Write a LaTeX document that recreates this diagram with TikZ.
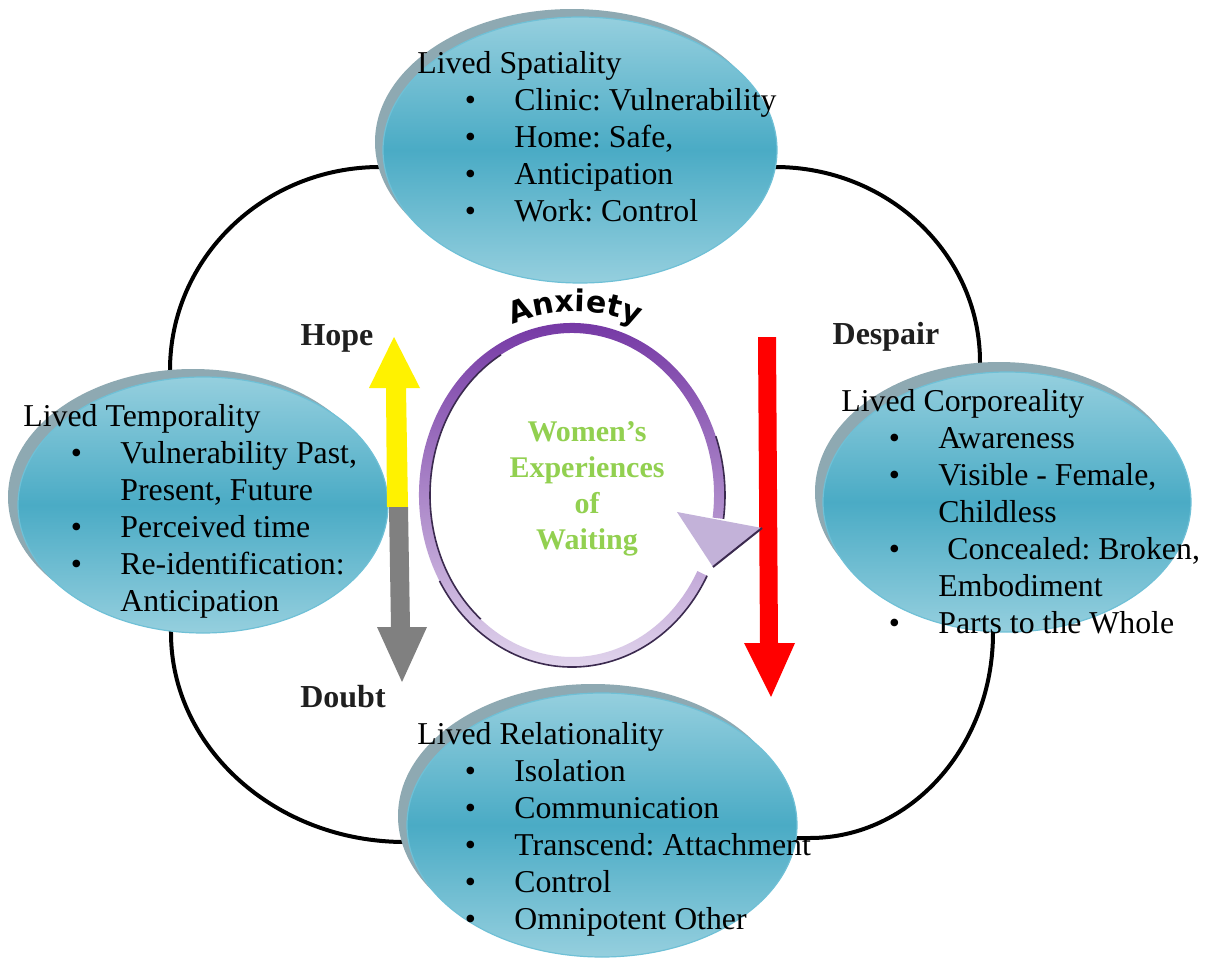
\documentclass[tikz,border=0pt]{standalone}
\usepackage{fontspec}
\setmainfont{Liberation Serif}
\newfontfamily\anxfont{DejaVu Sans}
\usetikzlibrary{shapes.geometric,decorations.text,calc}
\frenchspacing
\definecolor{ellLight}{HTML}{95CFDE}
\definecolor{ellDark}{HTML}{4AABC5}
\definecolor{ellShadow}{HTML}{8EA9B2}
\definecolor{ellEdge}{HTML}{6FC0D6}
\definecolor{ringTop}{HTML}{6E2EA0}
\definecolor{ringBot}{HTML}{E8DFF1}
\definecolor{ringEdge}{HTML}{3B2A4F}
\definecolor{headFill}{HTML}{C3B2D9}
\definecolor{waitGreen}{HTML}{92D050}
\newcommand\bitem[1]{\makebox[48.5pt][l]{\hspace*{23.7pt}\textbullet}#1}
\newcommand\contline[1]{\hspace*{48.5pt}#1}
\begin{document}
\begin{tikzpicture}[x=0.5pt,y=-0.5pt,
  ellshadow/.style={ellipse, fill=ellShadow, inner sep=0pt, outer sep=0pt},
  ellmain/.style={ellipse, top color=ellLight, bottom color=ellLight, middle color=ellDark, draw=ellEdge, line width=0.6pt, inner sep=0pt, outer sep=0pt},
  blocktext/.style={anchor=north west, align=left, inner sep=0pt, font=\fontsize{15.9}{18.5}\selectfont},
  lbl/.style={inner sep=0pt, text=black!88, font=\bfseries\fontsize{16}{19}\selectfont},
  ringline/.style={line width=2pt, black},
  edgeline/.style={ringEdge, line width=0.8pt}]
\useasboundingbox (0,0) rectangle (1212,958);
\fill[white] (0,0) rectangle (1212,958);

% outer ring connecting the four ellipses
\coordinate (r1) at (380,167);
\coordinate (r2) at (170,370);
\coordinate (r3) at (171,633);
\coordinate (r4) at (405,842);
\coordinate (r5) at (810,838);
\coordinate (r6) at (993,633);
\coordinate (r7) at (980,362);
\coordinate (r8) at (775,167);
\draw[ringline] (r1) .. controls (264,167) and (170,258) .. (r2) -- (r3)
  .. controls (171,748) and (276,842) .. (r4) -- (r5)
  .. controls (911,838) and (993,746) .. (r6) -- (r7)
  .. controls (980,254) and (888,167) .. (r8) -- cycle;

% ellipses
\node[ellshadow, minimum width=197pt, minimum height=133pt] (topS) at (572,142) {};
\node[ellmain, minimum width=197pt, minimum height=133pt] (top) at (580,150) {};
\node[ellshadow, minimum width=185pt, minimum height=128pt] (leftS) at (193,497) {};
\node[ellmain, minimum width=185pt, minimum height=128pt] (left) at (203,505) {};
\node[ellshadow, minimum width=184pt, minimum height=130pt] (rightS) at (999,492) {};
\node[ellmain, minimum width=184pt, minimum height=130pt] (right) at (1007,502) {};
\node[ellshadow, minimum width=195pt, minimum height=132pt] (botS) at (593,816) {};
\node[ellmain, minimum width=195pt, minimum height=132pt] (bot) at (602,825) {};

% hope / doubt arrow
\fill[yellow] (387,507) -- (386,388) -- (369,388) -- (394,337) -- (420,388) -- (406,388) -- (408,507) -- cycle;
\fill[black!50] (389,507) -- (408,507) -- (410,627) -- (427,627) -- (402,682) -- (377,627) -- (391,627) -- cycle;
% despair arrow
\fill[red] (758,337) -- (776,337) -- (778,643) -- (795,643) -- (771,697) -- (744,643) -- (760,643) -- cycle;

% central circular arrow
\coordinate (C) at (572,495);
\shade[top color=ringTop, bottom color=ringBot]
  ($(C)+(28:153 and 172)$) arc[start angle=28, end angle=368, x radius=153, y radius=172]
  -- ($(C)+(368:142 and 162)$) arc[start angle=368, end angle=28, x radius=142, y radius=162] -- cycle;
\draw[edgeline] ($(C)+(28:153 and 172)$) arc[start angle=28, end angle=150, x radius=153, y radius=172];
\draw[edgeline] ($(C)+(130:142 and 162)$) arc[start angle=130, end angle=240, x radius=142, y radius=162];
\draw[edgeline] ($(C)+(340:153 and 172)$) arc[start angle=340, end angle=368, x radius=153, y radius=172];
\fill[headFill] (677,512) -- (762,528) -- (713,567) -- cycle;
\draw[ringEdge, line width=1pt] (762,528) -- (713,567);

\path[decorate, decoration={text along path, text align=center,
   text={|\anxfont\bfseries\fontsize{15}{18}\selectfont|Anxiety}}]
  ($(575,468)+(225:156)$) arc[start angle=225, end angle=315, radius=156];

\node[align=center, text=waitGreen, inner sep=0pt, font=\bfseries\fontsize{15}{18}\selectfont] (wait) at (587,489) {Women’s\\Experiences\\of\\Waiting};

% labels
\node[lbl] (hope) at (337,338) {Hope};
\node[lbl] (despair) at (886,337) {Despair};
\node[lbl] (doubt) at (343,697) {Doubt};

% texts
\node[blocktext] (topT) at (417,51) {Lived Spatiality\\
  \bitem{Clinic: Vulnerability}\\
  \bitem{Home: Safe,}\\
  \bitem{Anticipation}\\
  \bitem{Work: Control}};
\node[blocktext] (leftT) at (23,404) {Lived Temporality\\
  \bitem{Vulnerability Past,}\\
  \contline{Present, Future}\\
  \bitem{Perceived time}\\
  \bitem{Re-identification:}\\
  \contline{Anticipation}};
\node[blocktext] (rightT) at (841,389) {Lived Corporeality\\
  \bitem{Awareness}\\
  \bitem{Visible - Female,}\\
  \contline{Childless}\\
  \bitem{\hspace*{4.5pt}Concealed: Broken,}\\
  \contline{Embodiment}\\
  \bitem{Parts to the Whole}};
\node[blocktext] (botT) at (417,722) {Lived Relationality\\
  \bitem{Isolation}\\
  \bitem{Communication}\\
  \bitem{Transcend: Attachment}\\
  \bitem{Control}\\
  \bitem{Omnipotent Other}};
\end{tikzpicture}
\end{document}
